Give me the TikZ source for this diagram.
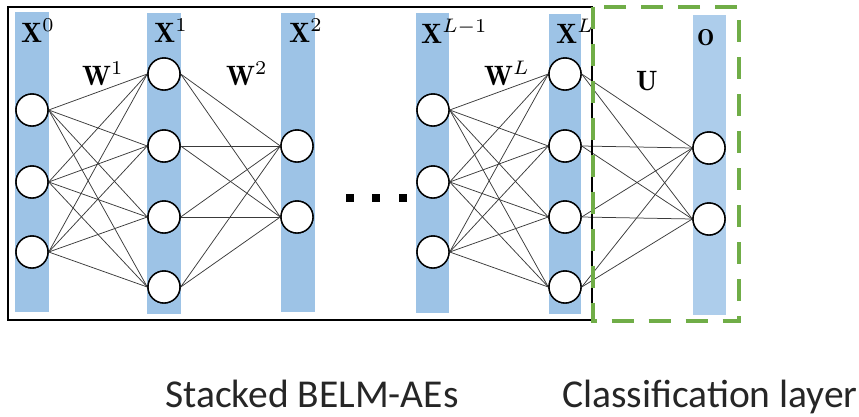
\documentclass[tikz,border=0pt]{standalone}
\usepackage{fontspec}
\usepackage{graphicx}
\newfontfamily\captionfont{Carlito}
\definecolor{barblue}{HTML}{9DC3E6}
\definecolor{barlight}{HTML}{ADCDEB}
\definecolor{boxgreen}{HTML}{70AD47}
\definecolor{wire}{HTML}{3A3A3A}
\newcommand\maglabel[2][2.8]{\scalebox{#1}{$#2$}}
\begin{document}
\begin{tikzpicture}[x=1pt,y=-1pt,
  neuron/.style={circle,draw=black,line width=1.4pt,fill=white,minimum size=32pt,inner sep=0pt},
  wirestyle/.style={draw=wire,line width=0.75pt},
  layerlabel/.style={anchor=base west,inner sep=0pt},
  caption/.style={anchor=base west,inner sep=0pt,font=\captionfont\fontsize{39.5}{40}\selectfont,text=black!85}]
\useasboundingbox (0,0) rectangle (859,416);

% layer bars
\fill[barblue] (15,12) rectangle (49,312);
\fill[barblue] (147,13) rectangle (181,314);
\fill[barblue] (281,13) rectangle (315,312);
\fill[barblue] (416,13) rectangle (449,313);
\fill[barblue] (549,14) rectangle (581,314);
\fill[barlight] (693,15) rectangle (726,315);

% neurons
\foreach \i/\y in {1/110,2/182,3/252} \node[neuron] (a\i) at (32,\y) {};
\foreach \i/\y in {1/74,2/146,3/217,4/287} \node[neuron] (b\i) at (164,\y) {};
\foreach \i/\y in {1/146,2/217} \node[neuron] (c\i) at (297,\y) {};
\foreach \i/\y in {1/110,2/182,3/252} \node[neuron] (d\i) at (433,\y) {};
\foreach \i/\y in {1/74,2/146,3/217,4/287} \node[neuron] (e\i) at (565,\y) {};
\foreach \i/\y in {1/148,2/219} \node[neuron] (o\i) at (709,\y) {};

% connections
\foreach \i in {1,2,3} \foreach \j in {1,2,3,4} \draw[wirestyle] (a\i.east) -- (b\j.west);
\foreach \i in {1,2,3,4} \foreach \j in {1,2} \draw[wirestyle] (b\i.east) -- (c\j.west);
\foreach \i in {1,2,3} \foreach \j in {1,2,3,4} \draw[wirestyle] (d\i.east) -- (e\j.west);
\foreach \i in {1,2,3,4} \foreach \j in {1,2} \draw[wirestyle] (e\i.east) -- (o\j.west);

% redraw neurons on top of wires
\foreach \n in {a1,a2,a3,b1,b2,b3,b4,c1,c2,d1,d2,d3,e1,e2,e3,e4,o1,o2}
  \draw[black,line width=1.4pt,fill=white] (\n.center) circle (16pt);

% layer labels
\node[layerlabel] (lx0) at (21,42) {\maglabel{\mathbf{X}^{0}}};
\node[layerlabel] (lx1) at (154,42) {\maglabel{\mathbf{X}^{1}}};
\node[layerlabel] (lx2) at (289,42) {\maglabel{\mathbf{X}^{2}}};
\node[layerlabel] (lxl1) at (421,43) {\maglabel{\mathbf{X}^{L-1}}};
\node[layerlabel] (lxl) at (556,43) {\maglabel{\mathbf{X}^{L}}};
\node[layerlabel] (lo) at (697,45) {\maglabel[2.3]{\mathbf{O}}};
\node[layerlabel] (lw1) at (82,85) {\maglabel{\mathbf{W}^{1}}};
\node[layerlabel] (lw2) at (226,85) {\maglabel{\mathbf{W}^{2}}};
\node[layerlabel] (lwl) at (484,85) {\maglabel{\mathbf{W}^{L}}};
\node[layerlabel] (lu) at (636,90) {\maglabel{\mathbf{U}}};

% ellipsis between the hidden layers
\foreach \x in {350,376,403} \fill[black] (\x-4,194) rectangle (\x+4,202);

% frames
\draw[black,line width=2pt] (8,7) rectangle (592,320);
\draw[boxgreen,line width=4pt,dash pattern=on 22pt off 15pt] (593,6.5) rectangle (739,321);

% captions
\node[caption] (cap1) at (165,407) {Stacked BELM-AEs};
\node[caption] (cap2) at (562,407) {Classification layer};
\end{tikzpicture}
\end{document}
